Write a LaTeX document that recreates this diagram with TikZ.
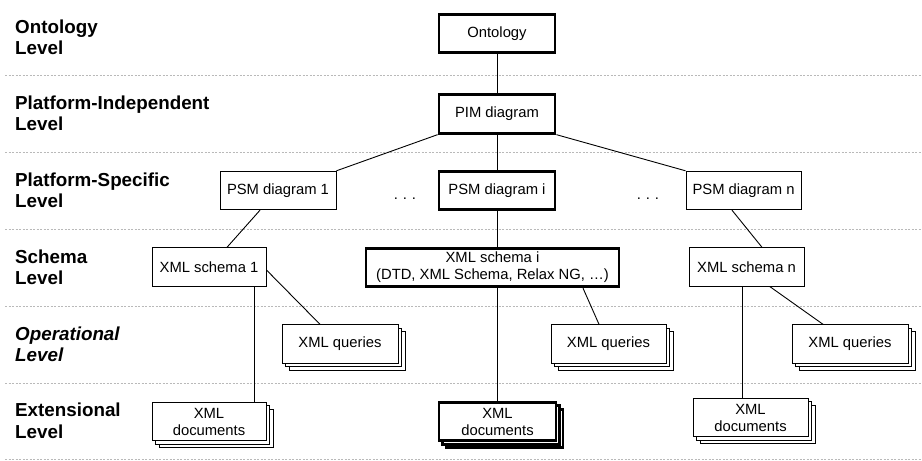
\documentclass[tikz,border=0pt]{standalone}
\usepackage{fontspec}
\setmainfont{Liberation Sans}
\usetikzlibrary{shadows}
\begin{document}
\begin{tikzpicture}[x=1pt,y=-1pt,
  box/.style={draw=black, fill=white, line width=0.9pt, minimum height=38.5pt, inner sep=1pt, align=center,
    font=\fontsize{14.8}{17}\selectfont},
  thickbox/.style={box, line width=2.8pt},
  stackthin/.style={box,
    general shadow={shadow xshift=7pt, shadow yshift=-7pt, draw=black, fill=white, line width=0.9pt},
    general shadow={shadow xshift=3.5pt, shadow yshift=-3.5pt, draw=black, fill=white, line width=0.9pt}},
  stackthick/.style={thickbox,
    general shadow={shadow xshift=7pt, shadow yshift=-7pt, draw=black, fill=white, line width=2.8pt},
    general shadow={shadow xshift=3.5pt, shadow yshift=-3.5pt, draw=black, fill=white, line width=2.8pt}},
  lvl/.style={anchor=west, inner sep=0pt, align=left, font=\fontsize{18.8}{21.5}\selectfont\bfseries},
  sep/.style={draw=gray!55, line width=1pt, dash pattern=on 2pt off 1.5pt},
  conn/.style={draw=black, line width=0.9pt},
  dotsty/.style={inner sep=0pt, font=\fontsize{14.8}{17}\selectfont}
]
\useasboundingbox (0,0) rectangle (922,461);

% separators
\foreach \yy in {75,152,229,306,383,459} \draw[sep] (5,\yy) -- (922,\yy);

% level labels
\node[lvl] (l1) at (15,37.5) {Ontology\\Level};
\node[lvl] (l2) at (15,113.5) {Platform-Independent\\Level};
\node[lvl] (l3) at (15,190.5) {Platform-Specific\\Level};
\node[lvl] (l4) at (15,267.5) {Schema\\Level};
\node[lvl, font=\fontsize{18.8}{21.5}\selectfont\bfseries\itshape] (l5) at (15,344.5) {Operational\\Level};
\node[lvl] (l6) at (15,421) {Extensional\\Level};

% nodes
\node[thickbox, minimum width=116pt] (ont) at (497,33.5) {Ontology};
\node[thickbox, minimum width=116pt] (pim) at (497,114) {PIM diagram};
\node[box, minimum width=116pt] (psm1) at (278,190.5) {PSM diagram 1};
\node[thickbox, minimum width=116pt] (psmi) at (497,190.5) {PSM diagram i};
\node[box, minimum width=115pt] (psmn) at (743.5,190.5) {PSM diagram n};
\node[dotsty] (dots1) at (405,199) {.\,\,.\,\,.};
\node[dotsty] (dots2) at (648,199) {.\,\,.\,\,.};

\node[box, minimum width=114pt] (sch1) at (209,267) {XML schema 1};
\node[thickbox, minimum width=253pt] (schi) at (492.5,267.5) {XML schema i\\(DTD, XML Schema, Relax NG, \dots)};
\node[box, minimum width=115pt] (schn) at (746.5,267) {XML schema n};

% connectors (drawn before stacked boxes)
\draw[conn] (ont.south) -- (pim.north);
\draw[conn] (pim.south west) -- (psm1.north east);
\draw[conn] (pim.south) -- (psmi.north);
\draw[conn] (pim.south east) -- (psmn.north west);
\draw[conn] ([xshift=-18pt]psm1.south) -- ([xshift=18pt]sch1.north);
\draw[conn] (psmi.south) -- (psmi.south |- schi.north);
\draw[conn] ([xshift=-11.5pt]psmn.south) -- ([xshift=15.5pt]schn.north);

\node[stackthin, minimum width=116pt] (q1) at (340,344) {XML queries};
\node[stackthin, minimum width=115pt] (qi) at (608.5,344) {XML queries};
\node[stackthin, minimum width=116pt] (qn) at (850,344) {XML queries};

\node[stackthin, minimum width=114pt] (d1) at (209,421.5) {XML\\documents};
\node[stackthick, minimum width=117pt] (di) at (497.5,421.5) {XML\\documents};
\node[stackthin, minimum width=115pt] (dn) at (750.5,417.5) {XML\\documents};

\draw[conn] ([yshift=-3pt]sch1.east) -- ([xshift=-20pt]q1.north);
\draw[conn] ([xshift=45pt]sch1.south) -- ([xshift=45pt]sch1.south |- d1.north);
\draw[conn] (di.north |- schi.south) -- (di.north);
\draw[conn] ([xshift=90.5pt]schi.south) -- ([xshift=-9.5pt]qi.north);
\draw[conn] ([xshift=-4.5pt]schn.south) -- ([xshift=-4.5pt]schn.south |- dn.north);
\draw[conn] ([xshift=23.5pt]schn.south) -- ([xshift=-27pt]qn.north);
\end{tikzpicture}
\end{document}
